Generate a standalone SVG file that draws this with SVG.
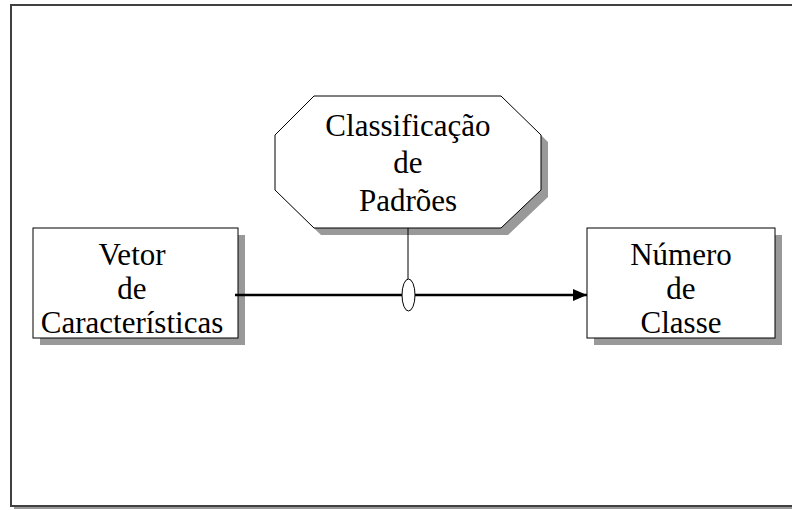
<svg xmlns="http://www.w3.org/2000/svg" width="792" height="510" viewBox="0 0 792 510">
<defs>
<marker id="arr" markerWidth="14" markerHeight="12" refX="14" refY="6" orient="auto" markerUnits="userSpaceOnUse">
<path d="M0,0 L14,6 L0,12 Z" fill="#000000"/>
</marker>
</defs>
<rect x="0" y="0" width="792" height="510" fill="#ffffff"/>
<g id="frame">
<rect x="14" y="506" width="778" height="3" fill="#999999"/>
<path d="M800,5 L11,5 L11,506 L800,506" fill="none" stroke="#404040" stroke-width="2"/>
</g>
<g id="classificacao">
<polygon fill="#999999" points="321,103 508,103 548,142 548,197 508,235 321,235 282,197 282,142"/>
<polygon fill="#ffffff" stroke="#000000" points="314,96 501,96 541,135 541,190 501,228 314,228 275,190 275,135"/>
<text x="408" y="136" font-family="Liberation Serif" font-size="31" text-anchor="middle">Classificação</text>
<text x="408" y="173" font-family="Liberation Serif" font-size="31" text-anchor="middle">de</text>
<text x="408" y="211" font-family="Liberation Serif" font-size="31" text-anchor="middle">Padrões</text>
</g>
<g id="vetor">
<rect fill="#999999" x="40" y="235" width="205" height="110"/>
<rect fill="#ffffff" stroke="#000000" x="33" y="228" width="205" height="110"/>
<text x="132" y="265" font-family="Liberation Serif" font-size="31" text-anchor="middle">Vetor</text>
<text x="132" y="299" font-family="Liberation Serif" font-size="31" text-anchor="middle">de</text>
<text x="132" y="333" font-family="Liberation Serif" font-size="31" text-anchor="middle">Características</text>
</g>
<g id="numero">
<rect fill="#999999" x="594" y="235" width="188" height="110"/>
<rect fill="#ffffff" stroke="#000000" x="587" y="228" width="188" height="110"/>
<text x="681" y="265" font-family="Liberation Serif" font-size="31" text-anchor="middle">Número</text>
<text x="681" y="299" font-family="Liberation Serif" font-size="31" text-anchor="middle">de</text>
<text x="681" y="333" font-family="Liberation Serif" font-size="31" text-anchor="middle">Classe</text>
</g>
<g id="connectors">
<line x1="235" y1="295" x2="587" y2="295" stroke="#000000" stroke-width="2.5" marker-end="url(#arr)"/>
<line x1="408" y1="228" x2="408" y2="279" stroke="#000000" stroke-width="1"/>
<ellipse cx="408.5" cy="295" rx="6.5" ry="16" fill="#ffffff" stroke="#000000" stroke-width="1"/>
</g>
</svg>
